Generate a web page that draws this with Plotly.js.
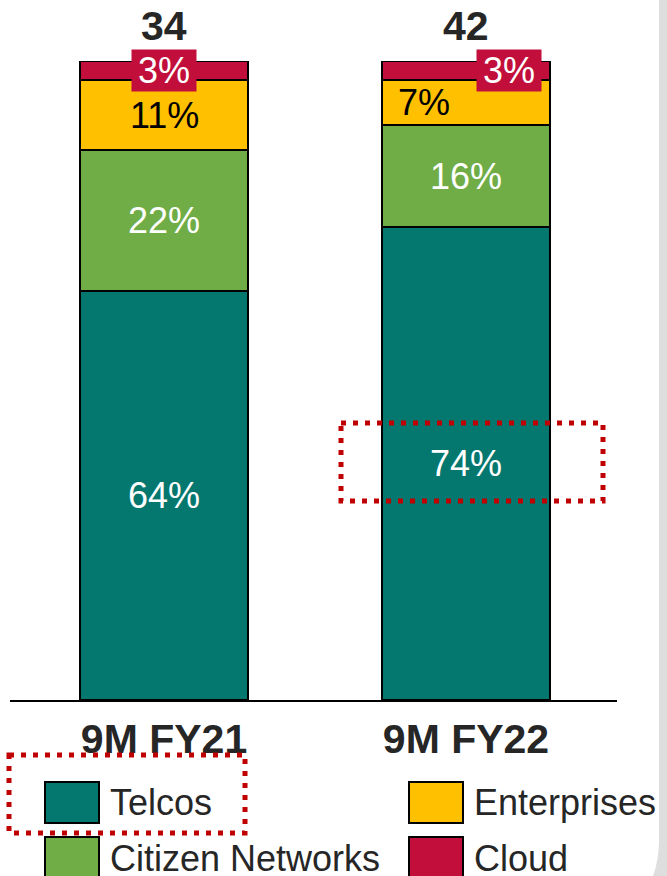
<!DOCTYPE html>
<html>
<head>
<meta charset="utf-8">
<script src="https://cdn.plot.ly/plotly-3.0.1.min.js"></script>
<style>
  html, body { margin: 0; padding: 0; background: #fff; }
  #plot { width: 667px; height: 876px; }
</style>
</head>
<body>
<div id="plot"></div>
<script>
var categories = ['9M FY21', '9M FY22'];
var totals = [34, 42];
var telcos = [64, 74];
var citizen = [22, 16];
var enterprises = [11, 7];
var cloud = [3, 3];

var seriesNames = ['Telcos', 'Citizen Networks', 'Enterprises', 'Cloud'];
var seriesValues = [telcos, citizen, enterprises, cloud];
var colors = ['#04776F', '#70AD47', '#FFC000', '#C20E3A'];
var labelColors = ['#ffffff', '#ffffff', '#000000', '#ffffff'];
// horizontal nudges of a few labels, in px
var labelShift = [[0, 0], [0, 0], [0, -42], [0, 43]];

var W = 667, H = 876;
var M = {l: 10, r: 50, t: 61, b: 176};
function px2x(p) { return (p - M.l) / (W - M.l - M.r); }
function py2y(p) { return (H - M.b - p) / (H - M.t - M.b); }

var font = 'Liberation Sans, Arial, sans-serif';

var data = seriesNames.map(function (name, i) {
  return {
    x: categories,
    y: seriesValues[i],
    name: name,
    type: 'bar',
    width: 0.556,
    marker: {color: colors[i], line: {color: '#000', width: 2}},
    textposition: 'none',
    hoverinfo: 'skip'
  };
});

var annotations = [];
// segment labels
categories.forEach(function (cat, j) {
  var base = 0;
  seriesValues.forEach(function (vals, i) {
    var a = {
      x: cat, y: base + vals[j] / 2, xref: 'x', yref: 'y',
      text: vals[j] + '%', showarrow: false,
      xshift: labelShift[i][j],
      font: {family: font, size: 36, color: labelColors[i]}
    };
    if (seriesNames[i] === 'Cloud') {
      a.bgcolor = colors[i];
      a.width = 64;
      a.height = 41;
      a.borderpad = 0;
    }
    annotations.push(a);
    base += vals[j];
  });
  annotations.push({
    x: cat, y: 100, xref: 'x', yref: 'y', yanchor: 'middle',
    yshift: 35, text: String(totals[j]), showarrow: false,
    font: {family: font, size: 41, color: '#262626', weight: 'bold'}
  });
});

// hand-made legend
var shapes = [];
var legendPos = [[45, 782], [45, 837], [409, 782], [409, 837]];
seriesNames.forEach(function (name, i) {
  var p = legendPos[i];
  shapes.push({
    type: 'rect', xref: 'paper', yref: 'paper',
    x0: px2x(p[0]), x1: px2x(p[0] + 54), y0: py2y(p[1]), y1: py2y(p[1] + 41),
    fillcolor: colors[i], line: {color: '#000', width: 2}
  });
  annotations.push({
    xref: 'paper', yref: 'paper', x: px2x(p[0] + 63), y: py2y(p[1] + 21),
    xanchor: 'left', yanchor: 'middle', showarrow: false,
    text: name,
    font: {family: font, size: 36, color: '#262626'}
  });
});

// dotted highlight boxes
var boxes = [[341, 423, 603, 501], [9, 755, 245, 833]];
boxes.forEach(function (b) {
  shapes.push({
    type: 'rect', xref: 'paper', yref: 'paper',
    x0: px2x(b[0]), x1: px2x(b[2]), y0: py2y(b[1]), y1: py2y(b[3]),
    line: {color: '#C00000', width: 5, dash: '5px,7px'}
  });
});

// grey frame edge at the right
shapes.push({
  type: 'path', xref: 'paper', yref: 'paper',
  path: 'M ' + px2x(659) + ' ' + py2y(0) + ' L ' + px2x(667) + ' ' + py2y(0) +
        ' L ' + px2x(667) + ' ' + py2y(876) + ' L ' + px2x(653) + ' ' + py2y(876) +
        ' Q ' + px2x(659) + ' ' + py2y(860) + ' ' + px2x(659) + ' ' + py2y(840) + ' Z',
  fillcolor: '#DEDEDE', line: {width: 0}, layer: 'below'
});

var layout = {
  width: W, height: H,
  margin: M,
  barmode: 'stack',
  showlegend: false,
  paper_bgcolor: '#fff',
  plot_bgcolor: '#fff',
  xaxis: {
    type: 'category', range: [-0.51, 1.5],
    showline: true, linecolor: '#000', linewidth: 2,
    ticks: '', ticklabelstandoff: 2,
    tickfont: {family: font, size: 41, color: '#262626', weight: 'bold'}
  },
  yaxis: {
    range: [0, 100], visible: false, showgrid: false, zeroline: false
  },
  annotations: annotations,
  shapes: shapes
};

Plotly.newPlot('plot', data, layout, {staticPlot: true});
</script>
</body>
</html>
